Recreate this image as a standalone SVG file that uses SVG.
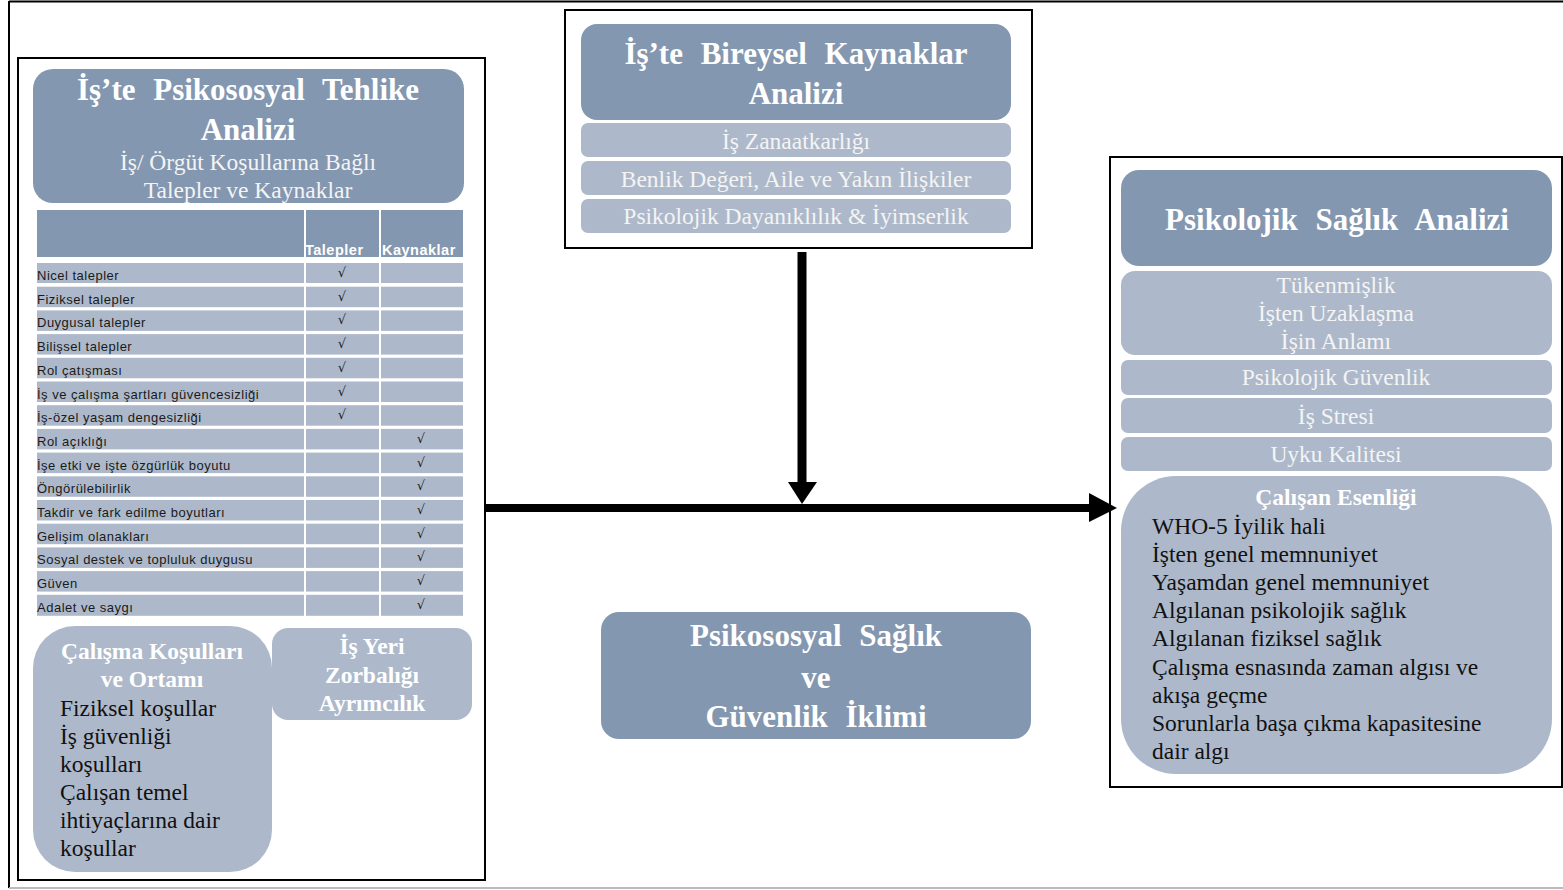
<svg xmlns="http://www.w3.org/2000/svg" width="1563" height="890" viewBox="0 0 1563 890">
<defs>
<style>
.frame{fill:#fff;stroke:#000;stroke-width:2}
.dark{fill:#8497B0}
.light{fill:#ADB9CA}
.ttl{font-family:"Liberation Serif",serif;font-weight:bold;fill:#fff;text-anchor:middle}
.big{font-size:31px;word-spacing:10px}
.mid{font-size:23.5px}
.sub{font-family:"Liberation Serif",serif;fill:#F4F4F4;text-anchor:middle;font-size:23.5px}
.body{font-family:"Liberation Serif",serif;fill:#111;font-size:23.5px}
.cell{font-family:"Liberation Sans",sans-serif;font-size:13px;letter-spacing:0.5px;fill:#1a1a1a}
.hdr{font-family:"Liberation Sans",sans-serif;font-size:14.5px;letter-spacing:0.5px;font-weight:bold;fill:#fff}
.chk{font-family:"DejaVu Sans",sans-serif;font-size:13px;fill:#1a1a1a;text-anchor:middle}
</style>
</defs>
<rect width="1563" height="890" fill="#fff"/>
<line x1="9" y1="1.5" x2="1563" y2="1.5" stroke="#000" stroke-width="2"/>
<line x1="9" y1="1" x2="9" y2="888" stroke="#000" stroke-width="2"/>
<line x1="9" y1="888" x2="1563" y2="888" stroke="#bbb" stroke-width="2"/>

<g id="left-panel">
<rect class="frame" x="18" y="58" width="467" height="822"/>
<g id="left-header">
<rect class="dark" x="33" y="69" width="431" height="134" rx="20"/>
<text class="ttl big" x="248" y="100">İş’te Psikososyal Tehlike</text>
<text class="ttl big" x="248" y="140">Analizi</text>
<text class="sub" x="248" y="170">İş/ Örgüt Koşullarına Bağlı</text>
<text class="sub" x="248" y="198">Talepler ve Kaynaklar</text>
</g>
<g id="table">
<rect class="dark" x="37" y="210" width="267" height="47"/>
<rect class="dark" x="306" y="210" width="73" height="47"/>
<rect class="dark" x="381" y="210" width="82" height="47"/>
<text class="hdr" x="305" y="255">Talepler</text>
<text class="hdr" x="382" y="255">Kaynaklar</text>
<g class="rows">
<rect class="light" x="37" y="263" width="267" height="20"/><rect class="light" x="306" y="263" width="73" height="20"/><rect class="light" x="381" y="263" width="82" height="20"/>
<text class="cell" x="37" y="280">Nicel talepler</text><text class="chk" x="342" y="277">√</text>
<rect class="light" x="37" y="286.7" width="267" height="20.5"/><rect class="light" x="306" y="286.7" width="73" height="20.5"/><rect class="light" x="381" y="286.7" width="82" height="20.5"/>
<text class="cell" x="37" y="303.7">Fiziksel talepler</text><text class="chk" x="342" y="300.7">√</text>
<rect class="light" x="37" y="310.4" width="267" height="20.5"/><rect class="light" x="306" y="310.4" width="73" height="20.5"/><rect class="light" x="381" y="310.4" width="82" height="20.5"/>
<text class="cell" x="37" y="327.4">Duygusal talepler</text><text class="chk" x="342" y="324.4">√</text>
<rect class="light" x="37" y="334.1" width="267" height="20.5"/><rect class="light" x="306" y="334.1" width="73" height="20.5"/><rect class="light" x="381" y="334.1" width="82" height="20.5"/>
<text class="cell" x="37" y="351.1">Bilişsel talepler</text><text class="chk" x="342" y="348.1">√</text>
<rect class="light" x="37" y="357.8" width="267" height="20.5"/><rect class="light" x="306" y="357.8" width="73" height="20.5"/><rect class="light" x="381" y="357.8" width="82" height="20.5"/>
<text class="cell" x="37" y="374.8">Rol çatışması</text><text class="chk" x="342" y="371.8">√</text>
<rect class="light" x="37" y="381.5" width="267" height="20.5"/><rect class="light" x="306" y="381.5" width="73" height="20.5"/><rect class="light" x="381" y="381.5" width="82" height="20.5"/>
<text class="cell" x="37" y="398.5">İş ve çalışma şartları güvencesizliği</text><text class="chk" x="342" y="395.5">√</text>
<rect class="light" x="37" y="405.2" width="267" height="20.5"/><rect class="light" x="306" y="405.2" width="73" height="20.5"/><rect class="light" x="381" y="405.2" width="82" height="20.5"/>
<text class="cell" x="37" y="422.2">İş-özel yaşam dengesizliği</text><text class="chk" x="342" y="419.2">√</text>
<rect class="light" x="37" y="428.9" width="267" height="20.5"/><rect class="light" x="306" y="428.9" width="73" height="20.5"/><rect class="light" x="381" y="428.9" width="82" height="20.5"/>
<text class="cell" x="37" y="445.9">Rol açıklığı</text><text class="chk" x="421" y="442.9">√</text>
<rect class="light" x="37" y="452.6" width="267" height="20.5"/><rect class="light" x="306" y="452.6" width="73" height="20.5"/><rect class="light" x="381" y="452.6" width="82" height="20.5"/>
<text class="cell" x="37" y="469.6">İşe etki ve işte özgürlük boyutu</text><text class="chk" x="421" y="466.6">√</text>
<rect class="light" x="37" y="476.3" width="267" height="20.5"/><rect class="light" x="306" y="476.3" width="73" height="20.5"/><rect class="light" x="381" y="476.3" width="82" height="20.5"/>
<text class="cell" x="37" y="493.3">Öngörülebilirlik</text><text class="chk" x="421" y="490.3">√</text>
<rect class="light" x="37" y="500" width="267" height="20.5"/><rect class="light" x="306" y="500" width="73" height="20.5"/><rect class="light" x="381" y="500" width="82" height="20.5"/>
<text class="cell" x="37" y="517">Takdir ve fark edilme boyutları</text><text class="chk" x="421" y="514">√</text>
<rect class="light" x="37" y="523.7" width="267" height="20.5"/><rect class="light" x="306" y="523.7" width="73" height="20.5"/><rect class="light" x="381" y="523.7" width="82" height="20.5"/>
<text class="cell" x="37" y="540.7">Gelişim olanakları</text><text class="chk" x="421" y="537.7">√</text>
<rect class="light" x="37" y="547.4" width="267" height="20.5"/><rect class="light" x="306" y="547.4" width="73" height="20.5"/><rect class="light" x="381" y="547.4" width="82" height="20.5"/>
<text class="cell" x="37" y="564.4">Sosyal destek ve topluluk duygusu</text><text class="chk" x="421" y="561.4">√</text>
<rect class="light" x="37" y="571.1" width="267" height="20.5"/><rect class="light" x="306" y="571.1" width="73" height="20.5"/><rect class="light" x="381" y="571.1" width="82" height="20.5"/>
<text class="cell" x="37" y="588.1">Güven</text><text class="chk" x="421" y="585.1">√</text>
<rect class="light" x="37" y="594.8" width="267" height="21"/><rect class="light" x="306" y="594.8" width="73" height="21"/><rect class="light" x="381" y="594.8" width="82" height="21"/>
<text class="cell" x="37" y="611.8">Adalet ve saygı</text><text class="chk" x="421" y="608.8">√</text>
</g>
</g>
<g id="calisma-kosullari">
<rect class="light" x="33" y="626" width="239" height="246" rx="42"/>
<text class="ttl mid" x="152" y="659">Çalışma Koşulları</text>
<text class="ttl mid" x="152" y="687">ve Ortamı</text>
<text class="body" x="60" y="716">Fiziksel koşullar</text>
<text class="body" x="60" y="744">İş güvenliği</text>
<text class="body" x="60" y="772">koşulları</text>
<text class="body" x="60" y="800">Çalışan temel</text>
<text class="body" x="60" y="828">ihtiyaçlarına dair</text>
<text class="body" x="60" y="856">koşullar</text>
</g>
<g id="zorbalik">
<rect class="light" x="272" y="628" width="200" height="92" rx="16"/>
<text class="ttl mid" x="372" y="654">İş Yeri</text>
<text class="ttl mid" x="372" y="683">Zorbalığı</text>
<text class="ttl mid" x="372" y="711">Ayrımcılık</text>
</g>
</g>

<g id="bireysel-kaynaklar">
<rect class="frame" x="565" y="10" width="467" height="238"/>
<rect class="dark" x="581" y="24" width="430" height="96" rx="16"/>
<text class="ttl big" x="796" y="64">İş’te Bireysel Kaynaklar</text>
<text class="ttl big" x="796" y="104">Analizi</text>
<rect class="light" x="581" y="123" width="430" height="34" rx="7"/>
<text class="sub" x="796" y="149">İş Zanaatkarlığı</text>
<rect class="light" x="581" y="161" width="430" height="34" rx="7"/>
<text class="sub" x="796" y="187">Benlik Değeri, Aile ve Yakın İlişkiler</text>
<rect class="light" x="581" y="199" width="430" height="34" rx="7"/>
<text class="sub" x="796" y="224">Psikolojik Dayanıklılık &amp; İyimserlik</text>
</g>

<g id="guvenlik-iklimi">
<rect class="dark" x="601" y="612" width="430" height="127" rx="18"/>
<text class="ttl big" x="816" y="646">Psikososyal Sağlık</text>
<text class="ttl big" x="816" y="688">ve</text>
<text class="ttl big" x="816" y="727">Güvenlik İklimi</text>
</g>

<g id="psikolojik-saglik">
<rect class="frame" x="1110" y="157" width="452" height="630"/>
<rect class="dark" x="1121" y="170" width="431" height="96" rx="18"/>
<text class="ttl big" x="1337" y="230">Psikolojik Sağlık Analizi</text>
<rect class="light" x="1121" y="271" width="431" height="84" rx="14"/>
<text class="sub" x="1336" y="293">Tükenmişlik</text>
<text class="sub" x="1336" y="321">İşten Uzaklaşma</text>
<text class="sub" x="1336" y="349">İşin Anlamı</text>
<rect class="light" x="1121" y="360" width="431" height="35" rx="7"/>
<text class="sub" x="1336" y="385">Psikolojik Güvenlik</text>
<rect class="light" x="1121" y="398" width="431" height="35" rx="7"/>
<text class="sub" x="1336" y="424">İş Stresi</text>
<rect class="light" x="1121" y="437" width="431" height="34" rx="7"/>
<text class="sub" x="1336" y="462">Uyku Kalitesi</text>
<g id="calisan-esenligi">
<rect class="light" x="1121" y="476" width="431" height="298" rx="55"/>
<text class="ttl mid" x="1336" y="505">Çalışan Esenliği</text>
<text class="body" x="1152" y="534">WHO-5 İyilik hali</text>
<text class="body" x="1152" y="562">İşten genel memnuniyet</text>
<text class="body" x="1152" y="590">Yaşamdan genel memnuniyet</text>
<text class="body" x="1152" y="618">Algılanan psikolojik sağlık</text>
<text class="body" x="1152" y="646">Algılanan fiziksel sağlık</text>
<text class="body" x="1152" y="675">Çalışma esnasında zaman algısı ve</text>
<text class="body" x="1152" y="703">akışa geçme</text>
<text class="body" x="1152" y="731">Sorunlarla başa çıkma kapasitesine</text>
<text class="body" x="1152" y="759">dair algı</text>
</g>
</g>

<g id="connectors">
<line x1="486" y1="508" x2="1092" y2="508" stroke="#000" stroke-width="8"/>
<polygon points="1089,493 1117,508 1089,522" fill="#000"/>
<line x1="802" y1="252" x2="802" y2="484" stroke="#000" stroke-width="9"/>
<polygon points="788,482 817,482 802,504" fill="#000"/>
</g>
</svg>
